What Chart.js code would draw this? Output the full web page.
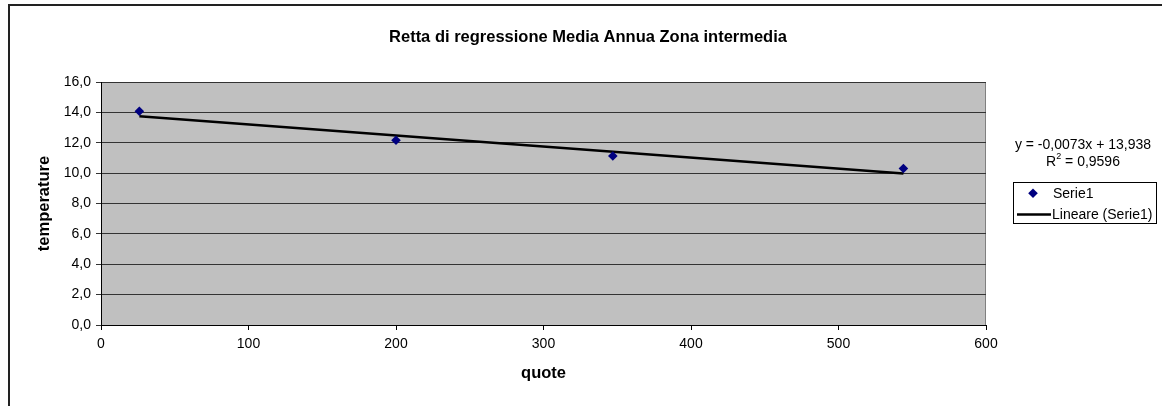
<!DOCTYPE html>
<html>
<head>
<meta charset="utf-8">
<script src="https://cdn.jsdelivr.net/npm/chart.js@4/dist/chart.umd.min.js"></script>
<style>
  body { margin: 0; background: #fff; }
  #wrap { width: 1162px; height: 406px; }
</style>
</head>
<body>
<div id="wrap"><canvas id="myChart" width="1162" height="406"></canvas></div>
<script>
// data
var quote = [26, 200, 347, 544];
var temperature = [14.07, 12.16, 11.13, 10.3];
var trendX = [26, 544];
var trendY = [13.75, 9.97];
var yTickLabels = ['0,0', '2,0', '4,0', '6,0', '8,0', '10,0', '12,0', '14,0', '16,0'];
var xTickLabels = ['0', '100', '200', '300', '400', '500', '600'];
var chartTitle = 'Retta di regressione Media Annua Zona intermedia';
var eqText = 'y = -0,0073x + 13,938';
var r2Value = ' = 0,9596';

var FONT = 'Liberation Sans, Arial, sans-serif';

// gray plot area, frame, title, equation and legend
var backdrop = {
  id: 'backdrop',
  beforeDraw: function (chart) {
    var c = chart.ctx, a = chart.chartArea;
    c.save();
    c.fillStyle = '#c0c0c0';
    c.fillRect(a.left, a.top, a.right - a.left, a.bottom - a.top);
    c.strokeStyle = '#808080';
    c.lineWidth = 1;
    c.strokeRect(a.left + 0.5, a.top + 0.5, a.right - a.left - 1, a.bottom - a.top);
    c.restore();
  },
  afterDraw: function (chart) {
    var c = chart.ctx;
    c.save();
    c.strokeStyle = '#222';
    c.lineWidth = 2;
    c.strokeRect(9, 5, 1300, 600);

    // title
    c.fillStyle = '#000';
    c.font = 'bold 16.5px ' + FONT;
    c.textAlign = 'center';
    c.textBaseline = 'middle';
    c.fillText(chartTitle, 588, 37);

    // equation text
    c.font = '14px ' + FONT;
    c.fillText(eqText, 1083, 145);
    c.font = '14px ' + FONT;
    var w1 = c.measureText('R').width;
    var w3 = c.measureText(r2Value).width;
    c.font = '9px ' + FONT;
    var w2 = c.measureText('2').width;
    var x0 = 1083 - (w1 + w2 + w3) / 2;
    c.textAlign = 'left';
    c.font = '14px ' + FONT;
    c.fillText('R', x0, 162);
    c.fillText(r2Value, x0 + w1 + w2, 162);
    c.font = '9px ' + FONT;
    c.fillText('2', x0 + w1, 157);

    // legend
    c.strokeStyle = '#000';
    c.lineWidth = 1;
    c.strokeRect(1013.5, 182.5, 143, 41);
    c.fillStyle = '#000080';
    c.beginPath();
    c.moveTo(1033, 188.5); c.lineTo(1037.8, 193.3); c.lineTo(1033, 198.1); c.lineTo(1028.2, 193.3);
    c.closePath(); c.fill();
    c.strokeStyle = '#000';
    c.lineWidth = 2.5;
    c.beginPath(); c.moveTo(1017, 214.5); c.lineTo(1051, 214.5); c.stroke();
    c.fillStyle = '#000';
    c.font = '14px ' + FONT;
    c.textBaseline = 'middle';
    c.fillText(chart.data.datasets[0].label, 1053, 194);
    c.fillText(chart.data.datasets[1].label, 1052, 215);
    c.restore();
  }
};

var ctx = document.getElementById('myChart').getContext('2d');

var myChart = new Chart(ctx, {
  type: 'scatter',
  data: {
    datasets: [{
      label: 'Serie1',
      data: quote.map(function (q, i) { return { x: q, y: temperature[i] }; }),
      pointStyle: 'rectRot',
      pointRadius: 4.8,
      backgroundColor: '#000080',
      borderColor: '#000080',
      borderWidth: 0,
      order: 1
    }, {
      label: 'Lineare (Serie1)',
      data: trendX.map(function (q, i) { return { x: q, y: trendY[i] }; }),
      showLine: true,
      pointRadius: 0,
      borderColor: '#000',
      borderWidth: 2.5,
      order: 2
    }]
  },
  options: {
    responsive: false,
    animation: false,
    layout: { padding: { left: 30, right: 176, top: 82, bottom: 20 } },
    plugins: {
      legend: { display: false },
      tooltip: { enabled: false },
      title: { display: false }
    },
    scales: {
      x: {
        type: 'linear',
        min: 0, max: 600,
        afterFit: function (s) { s.height = 61; },
        ticks: {
          stepSize: 100,
          color: '#000',
          padding: 6,
          font: { family: FONT, size: 14 },
          callback: function (v) { return xTickLabels[Math.round(v / 100)]; }
        },
        grid: { drawOnChartArea: false, drawTicks: true, tickLength: 5, color: '#000' },
        border: { color: '#000', width: 1 },
        title: {
          display: true, text: 'quote', color: '#000',
          font: { family: FONT, size: 16.5, weight: 'bold' },
          padding: { top: 0, bottom: 3 }
        }
      },
      y: {
        min: 0, max: 16,
        afterFit: function (s) { s.width = 71; },
        ticks: {
          stepSize: 2,
          color: '#000',
          padding: 5,
          font: { family: FONT, size: 14 },
          callback: function (v) { return yTickLabels[Math.round(v / 2)]; }
        },
        grid: { color: '#333', lineWidth: 1, tickLength: 5 },
        border: { color: '#000', width: 1 },
        title: {
          display: true, text: 'temperature', color: '#000',
          font: { family: FONT, size: 16.5, weight: 'bold' },
          padding: { top: 5, bottom: 0 }
        }
      }
    }
  },
  plugins: [backdrop]
});
</script>
</body>
</html>
